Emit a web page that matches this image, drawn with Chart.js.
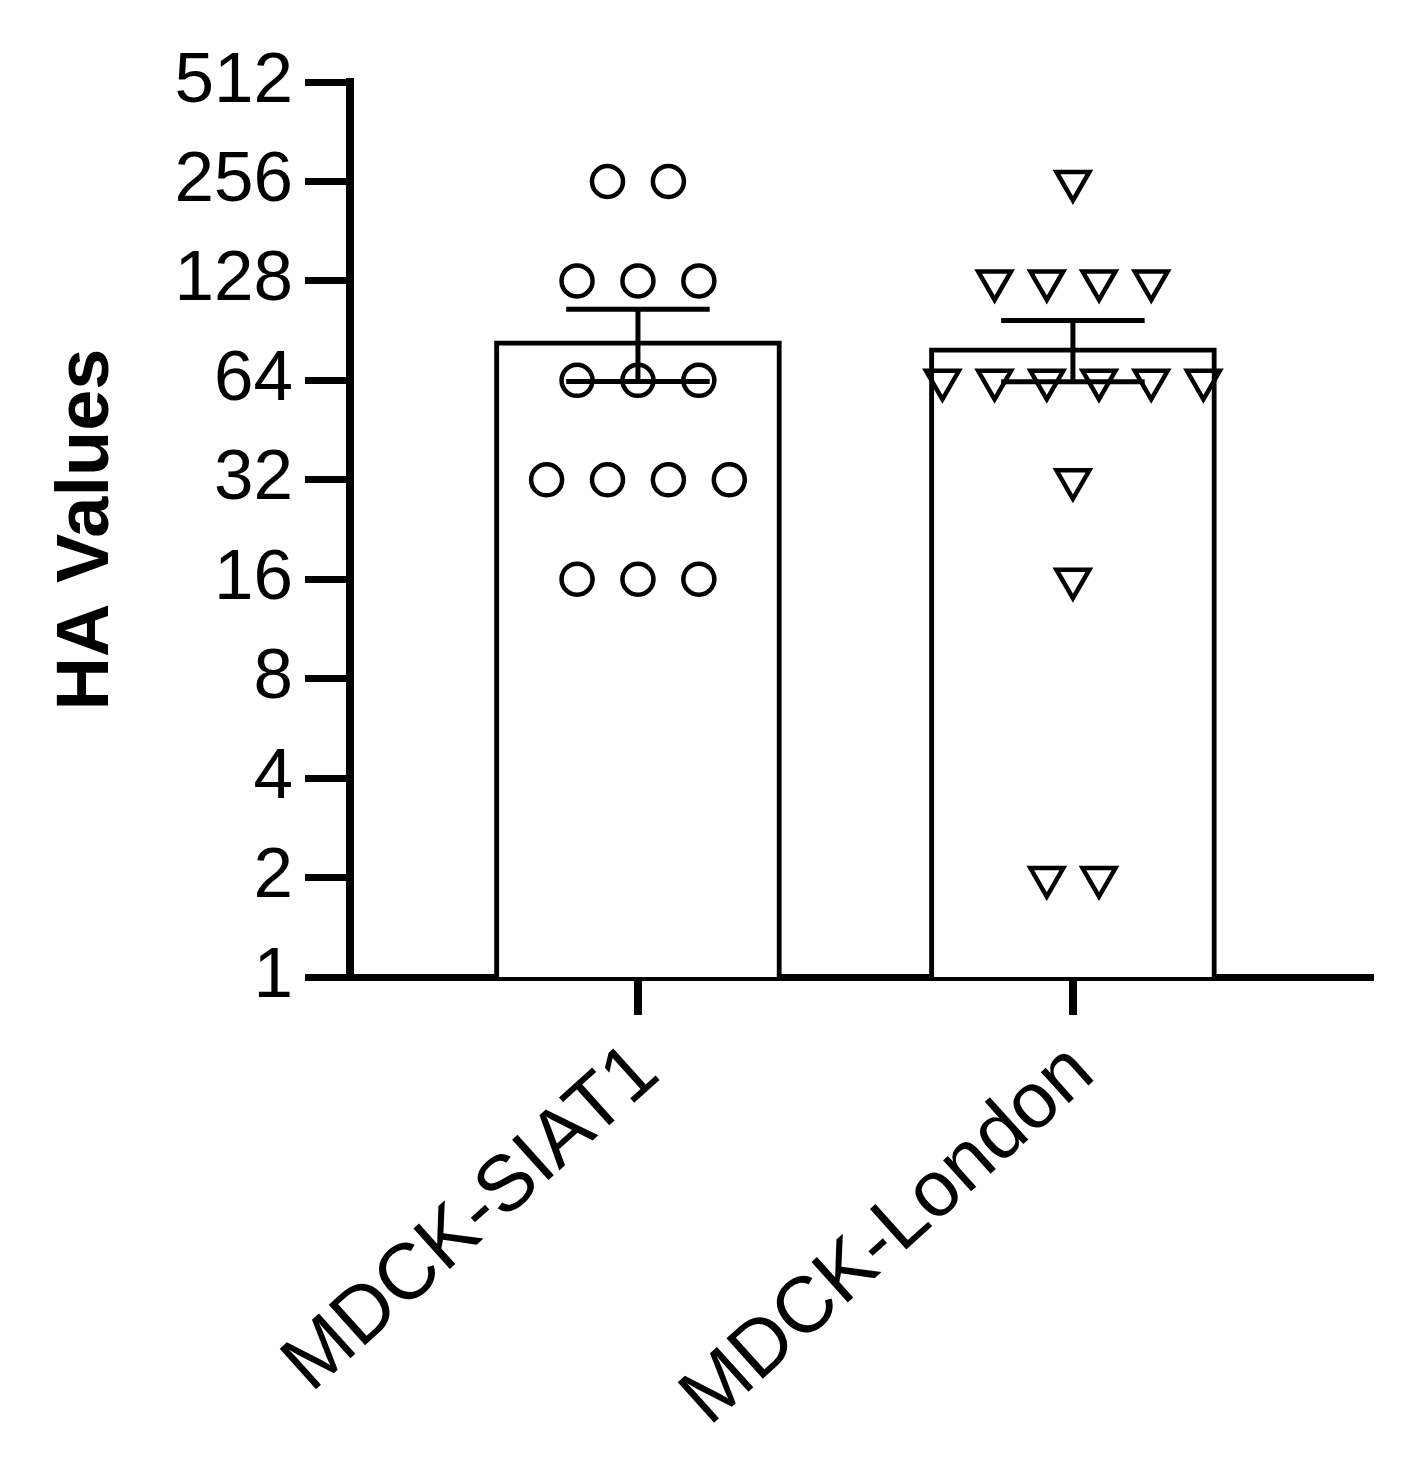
<!DOCTYPE html>
<html>
<head>
<meta charset="utf-8">
<title>HA Values</title>
<script src="https://cdn.jsdelivr.net/npm/chart.js@4.4.1/dist/chart.umd.min.js"></script>
<style>
    html, body { margin: 0; padding: 0; background: #ffffff; }
    #wrap { width: 1409px; height: 1469px; }
</style>
</head>
<body>
<div id="wrap"><canvas id="haChart"></canvas></div>
<script>
// Cell lines on the x axis
const categories = ['MDCK-SIAT1', 'MDCK-London'];
const categoryIndex = [0, 1];

// Bar height (mean) and SEM for each cell line
const barMeans = [84.3, 80.3];
const barSem = [20.8, 16.9];

// Individual HA titres
const siatValues = [256, 256, 128, 128, 128, 64, 64, 64, 32, 32, 32, 32, 16, 16, 16];
const londonValues = [256, 128, 128, 128, 128, 64, 64, 64, 64, 64, 64, 32, 16, 2, 2];

// Log2 axis ticks
const yTickValues = [1, 2, 4, 8, 16, 32, 64, 128, 256, 512];

const FONT = "'Liberation Sans', Arial, Helvetica, sans-serif";

/**
 * Spread equal values side by side around the column centre (Prism-style scatter)
 */
function spreadPoints(values, centre, step) {
    const counts = {};
    values.forEach(v => { counts[v] = (counts[v] || 0) + 1; });
    const seen = {};
    return values.map(v => {
        const k = seen[v] || 0;
        seen[v] = k + 1;
        return { x: centre + (k - (counts[v] - 1) / 2) * step, y: v };
    });
}

/**
 * Mean +/- SEM whiskers drawn over the bars
 */
const semBarsPlugin = {
    id: 'semBars',
    afterDatasetsDraw(chart) {
        const idx = chart.data.datasets.findIndex(d => d.type === 'bar');
        const meta = chart.getDatasetMeta(idx);
        const yScale = chart.scales.y;
        const ctx = chart.ctx;
        ctx.save();
        ctx.strokeStyle = '#000000';
        ctx.lineWidth = 5;
        meta.data.forEach((bar, i) => {
            const { x, width } = bar.getProps(['x', 'width'], true);
            const hi = yScale.getPixelForValue(barMeans[i] + barSem[i]);
            const lo = yScale.getPixelForValue(barMeans[i] - barSem[i]);
            const half = width / 4;
            ctx.beginPath();
            ctx.moveTo(x, hi);
            ctx.lineTo(x, lo);
            ctx.moveTo(x - half, hi);
            ctx.lineTo(x + half, hi);
            ctx.moveTo(x - half, lo);
            ctx.lineTo(x + half, lo);
            ctx.stroke();
        });
        ctx.restore();
    }
};

const ctx = document.getElementById('haChart');

new Chart(ctx, {
    type: 'bar',
    data: {
        datasets: [
            {
                type: 'scatter',
                label: categories[0],
                data: spreadPoints(siatValues, categoryIndex[0], 0.14),
                pointStyle: 'circle',
                radius: 15.5,
                borderWidth: 4.5,
                borderColor: '#000000',
                backgroundColor: 'rgba(255, 255, 255, 0)',
                order: 1
            },
            {
                type: 'scatter',
                label: categories[1],
                data: spreadPoints(londonValues, categoryIndex[1], 0.12),
                pointStyle: 'triangle',
                rotation: 180,
                radius: 19,
                borderWidth: 4.5,
                borderColor: '#000000',
                backgroundColor: 'rgba(255, 255, 255, 0)',
                order: 1
            },
            {
                type: 'bar',
                label: 'Mean',
                data: barMeans.map((m, i) => ({ x: categoryIndex[i], y: m })),
                backgroundColor: '#ffffff',
                borderColor: '#000000',
                borderWidth: 5,
                barThickness: 287,
                order: 2
            }
        ]
    },
    options: {
        responsive: true,
        maintainAspectRatio: false,
        animation: false,
        layout: {
            padding: { left: 43, top: 82, right: 39, bottom: 0 }
        },
        plugins: {
            legend: { display: false },
            tooltip: { enabled: false }
        },
        scales: {
            x: {
                type: 'linear',
                min: -0.662,
                max: 1.683,
                offset: false,
                afterBuildTicks: scale => {
                    scale.ticks = categoryIndex.map(v => ({ value: v }));
                },
                afterFit: scale => {
                    scale.height = 492;
                },
                grid: {
                    drawOnChartArea: false,
                    drawTicks: true,
                    tickLength: 38,
                    lineWidth: 8,
                    color: '#000000',
                    offset: false
                },
                border: { display: true, width: 7, color: '#000000' },
                ticks: {
                    autoSkip: false,
                    minRotation: 42,
                    maxRotation: 42,
                    padding: 11,
                    labelOffset: 10,
                    color: '#000000',
                    font: { family: FONT, size: 79 },
                    callback: v => categories[categoryIndex.indexOf(v)] || ''
                }
            },
            y: {
                type: 'logarithmic',
                min: 1,
                max: 512,
                afterBuildTicks: scale => {
                    scale.ticks = yTickValues.map(v => ({ value: v }));
                },
                afterFit: scale => {
                    scale.width = 307;
                },
                grid: {
                    drawOnChartArea: false,
                    drawTicks: true,
                    tickLength: 45,
                    lineWidth: 7,
                    color: '#000000'
                },
                border: { display: true, width: 8, color: '#000000' },
                ticks: {
                    autoSkip: false,
                    padding: 12,
                    color: '#000000',
                    font: { family: FONT, size: 71 },
                    callback: v => String(v)
                },
                title: {
                    display: true,
                    text: 'HA Values',
                    color: '#000000',
                    font: { family: FONT, size: 74, weight: 'bold' },
                    padding: { top: 0, bottom: 0 }
                }
            }
        }
    },
    plugins: [semBarsPlugin]
});
</script>
</body>
</html>
